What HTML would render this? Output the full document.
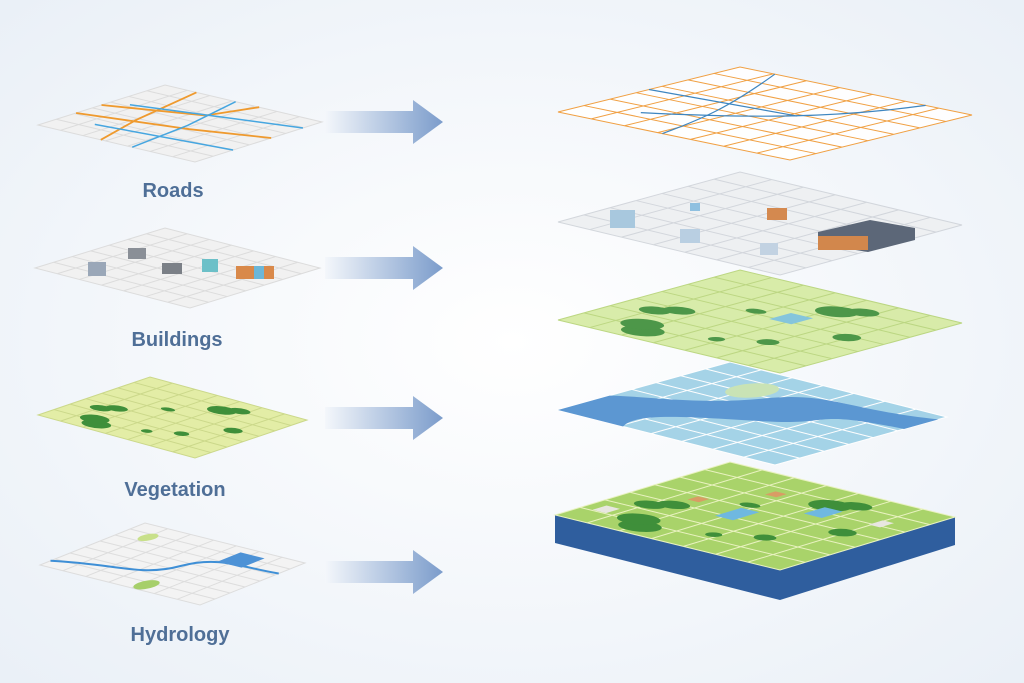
<!DOCTYPE html>
<html><head><meta charset="utf-8"><style>
html,body{margin:0;padding:0;background:#f4f7fb;}
svg{display:block}
text{font-family:"Liberation Sans",sans-serif;font-weight:bold;fill:#4f6f97;font-size:20px}
</style></head><body>
<svg width="1024" height="683" viewBox="0 0 1024 683" xmlns="http://www.w3.org/2000/svg">
<defs>
<radialGradient id="bg" cx="0.5" cy="0.5" r="0.7"><stop offset="0" stop-color="#ffffff"/><stop offset="1" stop-color="#eaf0f7"/></radialGradient>
<linearGradient id="arr" x1="0" x2="1"><stop offset="0" stop-color="#f4f7fb"/><stop offset="1" stop-color="#7b9ccb"/></linearGradient>
<g id="grid" fill="none" stroke-width="1">
<path vector-effect="non-scaling-stroke" d="M14.3 0V100M28.6 0V100M42.9 0V100M57.1 0V100M71.4 0V100M85.7 0V100M0 14.3H100M0 28.6H100M0 42.9H100M0 57.1H100M0 71.4H100M0 85.7H100M0 0H100V100H0Z"/>
</g>
<g id="arrow"><polygon points="0,-11 88,-11 88,-22 118,0 88,22 88,11 0,11" fill="url(#arr)"/></g>
<g id="trees" fill="#3f8f3a">
<ellipse cx="10" cy="30" rx="7" ry="8"/><ellipse cx="17" cy="24" rx="7" ry="8"/><ellipse cx="35" cy="15" rx="5" ry="6"/><ellipse cx="41" cy="21" rx="5" ry="6"/>
<ellipse cx="60" cy="40" rx="3" ry="4"/><ellipse cx="80" cy="60" rx="7" ry="8"/><ellipse cx="86" cy="67" rx="5" ry="6"/><ellipse cx="30" cy="70" rx="4" ry="4"/><ellipse cx="55" cy="85" rx="5" ry="5"/><ellipse cx="20" cy="55" rx="3" ry="3"/>
</g>
</defs>
<rect width="1024" height="683" fill="url(#bg)"/>

<!-- LEFT -->
<g transform="matrix(1.27,-0.4,1.57,0.37,38,125)">
<rect width="100" height="100" fill="#f1f1f1"/><use href="#grid" stroke="#dcdcdc"/>
<path d="M0 40 L40 30 L100 20 M30 0 L45 60 L60 100 M50 0 L70 50 L100 60" stroke="#ef9a2e" stroke-width="1.8" vector-effect="non-scaling-stroke" fill="none"/>
<path d="M0 60 L50 55 L100 45 M20 20 L30 100 M60 10 L85 100" stroke="#46a6e0" stroke-width="1.5" vector-effect="non-scaling-stroke" fill="none"/>
</g>
<g transform="matrix(1.3,-0.4,1.55,0.4,35,268)">
<rect width="100" height="100" fill="#f1f1f1"/><use href="#grid" stroke="#dcdcdc"/>
</g>
<rect x="88" y="262" width="18" height="14" fill="#9aa7b8"/><rect x="128" y="248" width="18" height="11" fill="#8a8f97"/><rect x="162" y="263" width="20" height="11" fill="#7b8087"/><rect x="202" y="259" width="16" height="13" fill="#6cc0c8"/><rect x="236" y="266" width="38" height="13" fill="#d9894a"/><rect x="254" y="266" width="10" height="13" fill="#6cb7d8"/>
<g transform="matrix(1.12,-0.38,1.57,0.43,38,415)">
<rect width="100" height="100" fill="#e3eda6"/><use href="#grid" stroke="#cbd88a"/>
<use href="#trees"/>
</g>
<g transform="matrix(1.05,-0.42,1.6,0.4,40,565)">
<rect width="100" height="100" fill="#f3f3f3"/><use href="#grid" stroke="#dddddd"/>
<path d="M10 0 C30 30 20 50 50 55 S70 80 75 100" stroke="#3e8fd6" stroke-width="2" vector-effect="non-scaling-stroke" fill="none"/>
<rect x="70" y="65" width="22" height="15" fill="#4d92d6"/>
<ellipse cx="10" cy="60" rx="10" ry="5" fill="#a6cf6a"/><ellipse cx="80" cy="15" rx="8" ry="4" fill="#c8e08a"/>
</g>
<text x="173" y="197" text-anchor="middle">Roads</text>
<text x="177" y="346" text-anchor="middle">Buildings</text>
<text x="175" y="496" text-anchor="middle">Vegetation</text>
<text x="180" y="641" text-anchor="middle">Hydrology</text>

<use href="#arrow" transform="translate(325,122)"/>
<use href="#arrow" transform="translate(325,268)"/>
<use href="#arrow" transform="translate(325,418)"/>
<use href="#arrow" transform="translate(325,572)"/>

<!-- RIGHT -->
<polygon points="555,515 780,570 955,517 955,545 780,600 555,543" fill="#2f5e9e"/>
<g transform="matrix(1.75,-0.53,2.25,0.55,555,515)">
<rect width="100" height="100" fill="#a9d36a"/><use href="#grid" stroke="#e9f2c0"/>
<use href="#trees"/>
<rect x="40" y="40" width="15" height="8" fill="#6fb8e0"/><rect x="65" y="60" width="12" height="8" fill="#6fb8e0"/>
<rect x="15" y="5" width="8" height="6" fill="#e8e6e0"/><rect x="50" y="20" width="6" height="5" fill="#d99c65"/><rect x="75" y="35" width="6" height="5" fill="#d99c65"/><rect x="70" y="85" width="8" height="5" fill="#e8e6e0"/>
</g>
<g transform="matrix(1.72,-0.48,2.17,0.55,558,410)" opacity="0.92">
<rect width="100" height="100" fill="#9ed0e6"/><use href="#grid" stroke="#ffffff"/>
<path d="M0 30 C20 20 30 40 45 60 S70 60 75 100 L95 100 C80 70 95 50 70 40 S40 10 30 0 L0 0Z" fill="#4f8fcf"/>
<ellipse cx="75" cy="30" rx="12" ry="8" fill="#c6e2b0"/>
</g>
<g transform="matrix(1.82,-0.5,2.22,0.53,558,320)" opacity="0.92">
<rect width="100" height="100" fill="#d6eba3"/><use href="#grid" stroke="#b7d478"/>
<use href="#trees"/>
<rect x="55" y="50" width="12" height="10" fill="#7cc1da"/>
</g>
<g transform="matrix(1.82,-0.5,2.22,0.53,558,222)" opacity="0.92">
<rect width="100" height="100" fill="#eef0f2"/><use href="#grid" stroke="#d0d4da"/>
</g>
<rect x="610" y="210" width="25" height="18" fill="#a8c8de"/><rect x="680" y="229" width="20" height="14" fill="#b9cfe2"/><rect x="767" y="208" width="20" height="12" fill="#d4894f"/><rect x="690" y="203" width="10" height="8" fill="#8fc0e0"/><rect x="760" y="243" width="18" height="12" fill="#c2d2e2"/>
<polygon points="818,232 870,220 915,228 915,240 868,252 818,244" fill="#5c6778"/><rect x="818" y="236" width="50" height="14" fill="#d2874c"/>
<g transform="matrix(1.82,-0.45,2.32,0.48,558,112)">
<rect width="100" height="100" fill="#ffffff" opacity="0.9"/><use href="#grid" stroke="#f0a043"/>
<path d="M0 45 C30 40 50 35 100 15 M20 20 C40 50 60 70 100 80 M50 0 L55 60" stroke="#3e86c0" stroke-width="1.2" vector-effect="non-scaling-stroke" fill="none"/>
</g>
</svg>
</body></html>
